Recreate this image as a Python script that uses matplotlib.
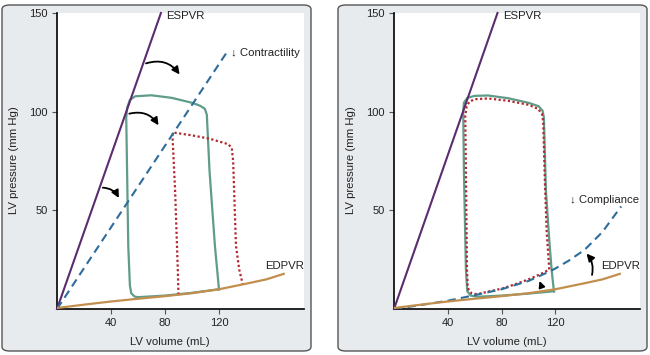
import matplotlib
matplotlib.use("Agg")
import matplotlib.pyplot as plt
from matplotlib.patches import FancyBboxPatch, FancyArrowPatch

plt.rcParams['font.family'] = ['Liberation Sans', 'DejaVu Sans']

# ---- data (LV volume mL, LV pressure mm Hg) ----
espvr_v = [0, 77]
espvr_p = [0, 150]

contract_v = [0, 126.4]
contract_p = [0, 130.7]

edpvr_v = [0, 20, 40, 60, 80, 100, 120, 140, 155, 168]
edpvr_p = [0.5, 2.2, 3.8, 5.2, 6.5, 8.0, 10.0, 12.8, 15.0, 17.8]

compl_v = [0, 20, 40, 60, 80, 100, 115, 120, 130, 141.8, 155, 169]
compl_p = [0, 2.0, 4.2, 7.0, 10.0, 14.2, 18.8, 20.5, 24.5, 30.0, 39.0, 52.0]

# normal loop, left panel
loopL_v = [120, 100, 80, 60, 57.5, 55, 54, 52.8, 51.3, 52, 54, 58, 70, 85, 100, 106, 109.5, 111, 113, 117, 120]
loopL_p = [10, 8.2, 6.8, 6.0, 6.3, 8, 12, 32, 97, 102, 106, 107.8, 108.3, 107, 104.5, 103, 101.5, 98.5, 70, 32, 10]

# reduced contractility loop (no filling limb drawn)
redL_v = [90, 89.5, 87.5, 85.5, 86.5, 100, 113, 122, 127, 129.5, 130.5, 132.6, 135, 137.6]
redL_p = [7.3, 20, 60, 88.5, 89.4, 88, 86.3, 84.5, 83.5, 81.5, 75, 32, 20, 12.5]

# normal loop, right panel
loopR_v = [119, 100, 80, 62, 57, 54.5, 53.5, 52, 51.5, 52, 54.5, 60, 70, 85, 100, 107.5, 110.5, 111.5, 113, 115.5, 117, 118, 119]
loopR_p = [9, 7.8, 6.8, 6.2, 6.8, 9, 20, 70, 100, 104.5, 107, 108, 108.2, 106.8, 104.5, 102.8, 100.5, 97, 60, 35, 22, 15, 9]

# reduced compliance loop
redR_v = [55.5, 54.8, 54.3, 53.5, 53, 54, 56, 60, 70, 85, 100, 107, 110, 111, 112, 113.5, 115, 115.5, 110, 100, 90, 80, 70, 62, 58, 55.5]
redR_p = [9.5, 12, 20, 70, 98, 102.5, 105, 106.3, 106.7, 105.5, 103.5, 101.5, 99, 95, 70, 40, 25, 20, 18, 15, 12.5, 10.3, 8.8, 7.5, 7.8, 9.5]

xticks = [40, 80, 120]
yticks = [50, 100, 150]

c_esp = '#5b2c6f'
c_blue = '#2e6c9c'
c_tan = '#c28e4e'
c_green = '#5f9c89'
c_red = '#b3262b'

fig = plt.figure(figsize=(6.5, 3.55), dpi=100)

# panel frames
for x0 in (2, 338):
    fig.add_artist(FancyBboxPatch((x0 / 650, 4 / 355), 309 / 650, 346 / 355,
                                  boxstyle='round,pad=0,rounding_size=0.012',
                                  transform=fig.transFigure, facecolor='#e8ebee',
                                  edgecolor='#555555', lw=1.0, zorder=-5))

axL = fig.add_axes([57 / 650, 1 - 309 / 355, 247 / 650, 296 / 355])
axR = fig.add_axes([394 / 650, 1 - 309 / 355, 246 / 650, 296 / 355])


def style(ax):
    ax.set_xlim(0, 183)
    ax.set_ylim(0, 150)
    ax.set_facecolor('white')
    ax.spines['top'].set_visible(False)
    ax.spines['right'].set_visible(False)
    ax.spines['left'].set_linewidth(1.2)
    ax.spines['bottom'].set_linewidth(1.2)
    ax.set_xticks(xticks)
    ax.set_yticks(yticks)
    ax.tick_params(axis='both', direction='out', length=3.5, width=0.8, color='#555555',
                   labelsize=8, labelcolor='#222222', pad=3)
    ax.text(0.457, -0.11, 'LV volume (mL)', transform=ax.transAxes, ha='center',
            va='center', fontsize=8.2, color='#222222')
    ax.text(-0.174, 0.503, 'LV pressure (mm Hg)', transform=ax.transAxes, ha='center',
            va='center', rotation=90, fontsize=8.2, color='#222222')


def arrow(ax, a, b, rad, ms=11):
    ax.add_patch(FancyArrowPatch(a, b, arrowstyle='-|>', connectionstyle=f'arc3,rad={rad}',
                                 mutation_scale=ms, lw=1.3, color='black', zorder=6))


for ax in (axL, axR):
    style(ax)

# left panel: decreased contractility
axL.plot(loopL_v, loopL_p, color=c_green, lw=1.6, zorder=3)
axL.plot(redL_v, redL_p, color=c_red, lw=1.6, ls=(0, (1, 1.1)), zorder=3)
axL.plot(espvr_v, espvr_p, color=c_esp, lw=1.5, zorder=4, clip_on=False)
axL.plot(contract_v, contract_p, color=c_blue, lw=1.5, ls=(0, (4, 2.5)), zorder=4)
axL.plot(edpvr_v, edpvr_p, color=c_tan, lw=1.6, zorder=5)
axL.text(81, 148.5, 'ESPVR', fontsize=8.2, va='center', color='#222222')
axL.text(129, 129.6, '\u2193 Contractility', fontsize=8.2, va='center', color='#222222')
axL.text(154, 21.8, 'EDPVR', fontsize=8.2, va='center', color='#222222')
arrow(axL, (64, 124), (92, 117.7), -0.4)
arrow(axL, (51.6, 98.6), (76.3, 91.9), -0.4)
arrow(axL, (31.9, 61.5), (46.7, 55), -0.35)

# right panel: decreased compliance
axR.plot(loopR_v, loopR_p, color=c_green, lw=1.6, zorder=3)
axR.plot(redR_v, redR_p, color=c_red, lw=1.6, ls=(0, (1, 1.1)), zorder=3)
axR.plot(espvr_v, espvr_p, color=c_esp, lw=1.5, zorder=4, clip_on=False)
axR.plot(compl_v, compl_p, color=c_blue, lw=1.5, ls=(0, (4, 2.5)), zorder=4)
axR.plot(edpvr_v, edpvr_p, color=c_tan, lw=1.6, zorder=5)
axR.text(81, 148.6, 'ESPVR', fontsize=8.2, va='center', color='#222222')
axR.text(131, 55, '\u2193 Compliance', fontsize=8.2, va='center', color='#222222')
axR.text(154, 22, 'EDPVR', fontsize=8.2, va='center', color='#222222')
arrow(axR, (146.8, 15.9), (141.8, 29.1), 0.3)
arrow(axR, (110.5, 10), (107.5, 15.5), 0.0, ms=9)

fig.savefig('out.png', dpi=100)
